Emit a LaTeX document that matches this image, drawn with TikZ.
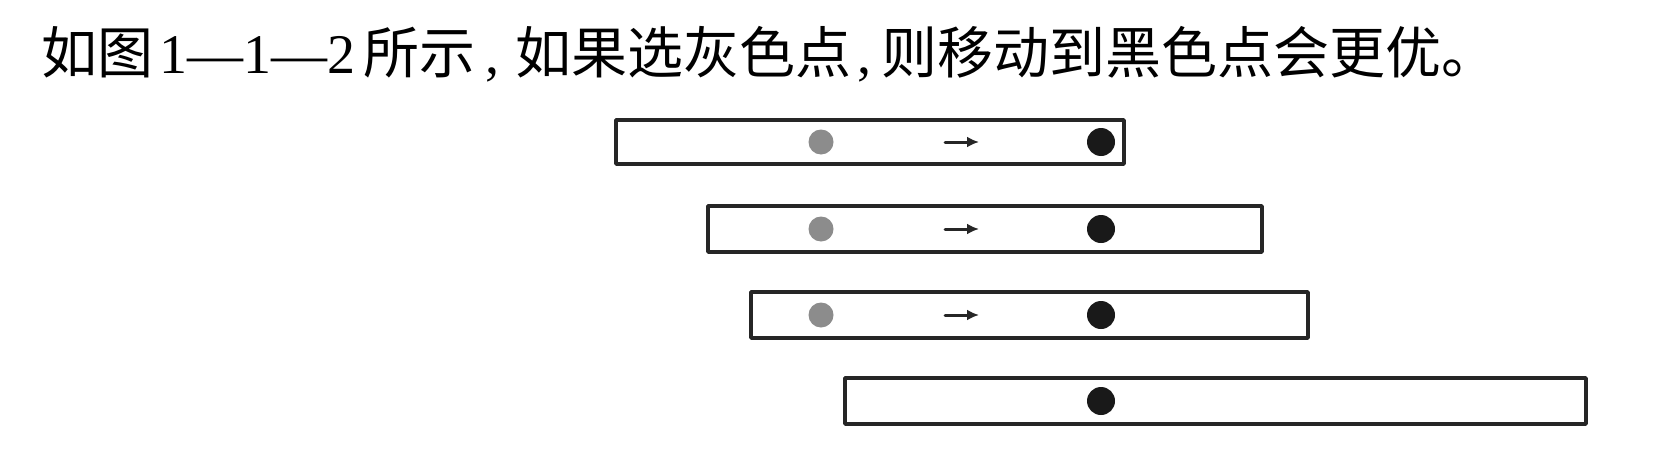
\documentclass[tikz,border=0pt]{standalone}
\usepackage{fontspec}
\newfontfamily\cjk{Noto Sans CJK SC}
\setmainfont{Liberation Serif}
\usetikzlibrary{arrows.meta}

\tikzset{
  bar/.style={draw=black!85,line width=3.6pt,fill=white},
  graydot/.style={fill=black!45},
  blackdot/.style={fill=black!90},
  moveto/.style={-{Latex[length=12pt,width=11pt]},line width=3pt,black!85}
}

\begin{document}
\begin{tikzpicture}[x=1pt,y=-1pt,line cap=round,line join=round]
\path[use as bounding box] (0,0) rectangle (1666,450);
\node[anchor=base west,inner sep=0pt,font=\fontsize{56}{56}\selectfont] (caption) at (41,73)
  {\cjk 如图\kern6pt\textrm{1—1—2}\kern8pt 所示\kern10pt\textrm{,}\kern16pt 如果选灰色点\kern6pt\textrm{,}\kern10pt 则移动到黑色点会更优。};
% bars: left, right, top, bottom
\foreach \l/\r/\t/\b [count=\i] in {616/1124/120/164,708/1262/206/252,751/1308/292/338,845/1586/378/424}
  \draw[bar] (\l,\t) rectangle (\r,\b) coordinate (bar\i);
% dots and moves
\foreach \y [count=\i] in {142,229,315}{
  \fill[graydot] (821,\y) circle (12.5pt);
  \coordinate (from\i) at (945,\y);
  \coordinate (to\i) at (979,\y);
  \draw[moveto] (from\i) -- (to\i);
}
\foreach \y in {142,229,315,401}
  \fill[blackdot] (1101,\y) circle (14pt);
\end{tikzpicture}
\end{document}
